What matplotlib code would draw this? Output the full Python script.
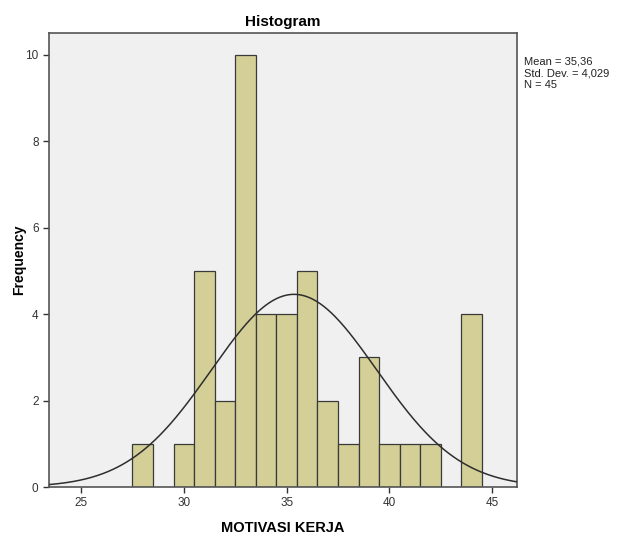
import matplotlib.pyplot as plt
import numpy as np

plt.rcParams["font.family"] = ["Liberation Sans", "DejaVu Sans"]

# Histogram bins (width 1) and counts
bin_centers = [28, 30, 31, 32, 33, 34, 35, 36, 37, 38, 39, 40, 41, 42, 44]
counts = [1, 1, 5, 2, 10, 4, 4, 5, 2, 1, 3, 1, 1, 1, 4]
mean = 35.36
std = 4.029
n = 45
bin_width = 1.0

fg = plt.figure(figsize=(6.19, 5.41), dpi=100)
ax = fg.add_axes([0.0792, 0.0998, 0.7558, 0.8392])
ax.set_facecolor("#f0f0f0")

ax.bar(
    bin_centers,
    counts,
    width=bin_width,
    color="#d3cf97",
    edgecolor="#3a3a3a",
    linewidth=0.9,
    zorder=2,
)

xlim = (23.44, 46.2)
xs = np.linspace(xlim[0], xlim[1], 400)
ys = n * bin_width / (std * np.sqrt(2 * np.pi)) * np.exp(-0.5 * ((xs - mean) / std) ** 2)
ax.plot(xs, ys, color="#2e2e2e", linewidth=1.1, zorder=3)

ax.set_xlim(*xlim)
ax.set_ylim(0, 10.5)
ax.set_xticks([25, 30, 35, 40, 45])
ax.set_yticks([0, 2, 4, 6, 8, 10])
ax.tick_params(labelsize=8.5, length=4, width=1, colors="#333333")
for s in ax.spines.values():
    s.set_color("#555555")
    s.set_linewidth(1.2)

ax.set_title("Histogram", fontsize=11, fontweight="bold", pad=5)
ax.set_xlabel("MOTIVASI KERJA", fontsize=10.5, fontweight="bold", labelpad=8)
ax.set_ylabel("Frequency", fontsize=10, fontweight="bold")
ax.yaxis.set_label_coords(-0.048, 0.5)

stats = "\n".join([
    "Mean = " + f"{mean:.2f}".replace(".", ","),
    "Std. Dev. = " + f"{std:.3f}".replace(".", ","),
    f"N = {n}",
])
fg.text(
    524 / 619,
    1 - 56 / 541,
    stats,
    fontsize=8,
    va="top",
    ha="left",
    linespacing=1.25,
    color="#222222",
)

fg.savefig("out.png", dpi=100)
